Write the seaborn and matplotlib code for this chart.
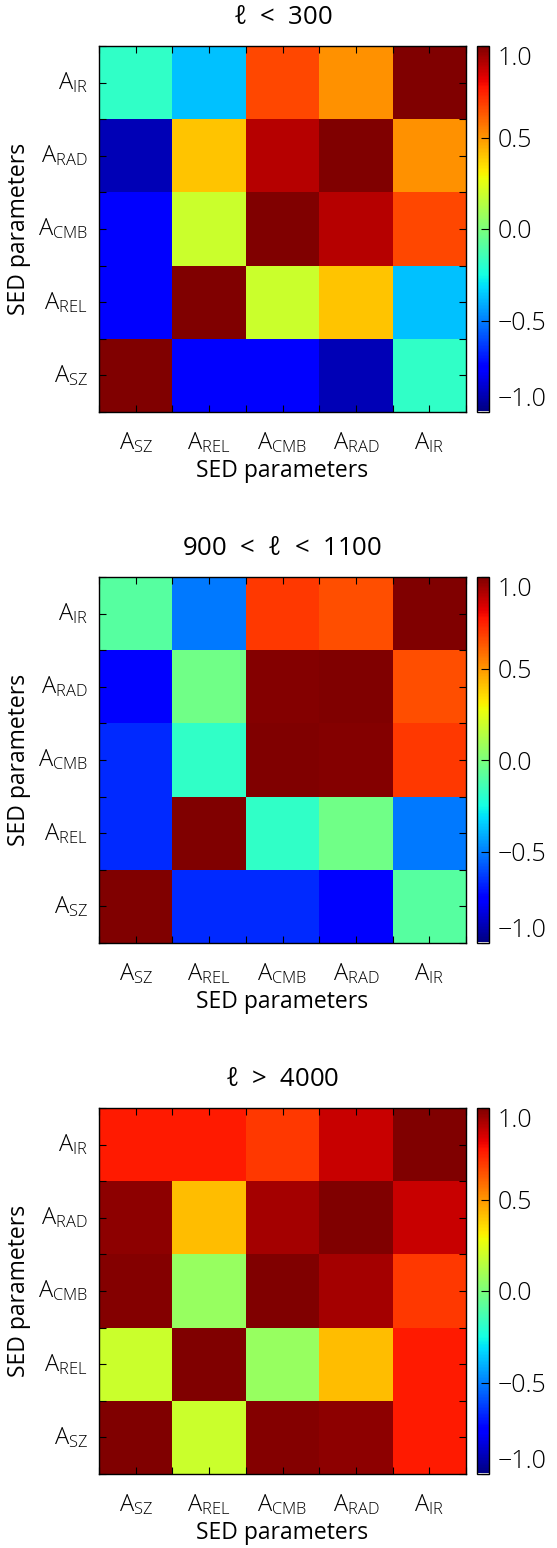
import numpy as np
import pandas as pd
import matplotlib
matplotlib.use('Agg')
import matplotlib.pyplot as plt
import seaborn as sns
from matplotlib.colors import ListedColormap
from matplotlib.ticker import FixedLocator

# SED parameters, in matrix order
params = ['SZ', 'REL', 'CMB', 'RAD', 'IR']
tick_labels = [r'$A_{%s}$' % p for p in params]
titles = [r'$\ell$  <  300', r'900  <  $\ell$  <  1100', r'$\ell$  >  4000']

# correlation matrices, rows/cols ordered SZ, REL, CMB, RAD, IR
corr_low = [
    [1.00, -0.77, -0.76, -0.90, -0.18],
    [-0.77, 1.00, 0.19, 0.40, -0.375],
    [-0.76, 0.19, 1.00, 0.90, 0.67],
    [-0.90, 0.40, 0.90, 1.00, 0.515],
    [-0.18, -0.375, 0.67, 0.515, 1.00],
]
corr_mid = [
    [1.00, -0.67, -0.67, -0.77, -0.09],
    [-0.67, 1.00, -0.18, -0.03, -0.515],
    [-0.67, -0.18, 1.00, 0.99, 0.70],
    [-0.77, -0.03, 0.99, 1.00, 0.65],
    [-0.09, -0.515, 0.70, 0.65, 1.00],
]
corr_high = [
    [1.00, 0.19, 0.99, 0.97, 0.76],
    [0.19, 1.00, 0.066, 0.42, 0.76],
    [0.99, 0.066, 1.00, 0.937, 0.70],
    [0.97, 0.42, 0.937, 1.00, 0.868],
    [0.76, 0.76, 0.70, 0.868, 1.00],
]
cbar_ticks = [-1.0, -0.5, 0.0, 0.5, 1.0]
cbar_labels = ['\u22121.0', '\u22120.5', '0.0', '0.5', '1.0']

sns.set_style('ticks')
plt.rcParams['font.family'] = ['Open Sans', 'DejaVu Sans']
plt.rcParams['font.weight'] = 'light'
plt.rcParams['mathtext.default'] = 'regular'
plt.rcParams['axes.linewidth'] = 1.0
for key in ['text.color', 'axes.labelcolor', 'xtick.color', 'ytick.color',
            'axes.edgecolor']:
    plt.rcParams[key] = 'black'

# jet with the lowest entry white (as in the IDL colour bar)
jet = plt.get_cmap('jet')(np.linspace(0, 1, 256))
jet[0] = [1, 1, 1, 1]
cmap = ListedColormap(jet)

W, H = 557, 1548
fig = plt.figure(figsize=(W / 100, H / 100), dpi=100)

tops = [46, 577, 1108]
for corr, title, top in zip([corr_low, corr_mid, corr_high], titles, tops):
    bottom = 1 - (top + 366) / H
    ax = fig.add_axes([99 / W, bottom, 367 / W, 366 / H])
    cax = fig.add_axes([477 / W, bottom, 12 / W, 366 / H])

    df = pd.DataFrame(corr, index=tick_labels, columns=tick_labels).iloc[::-1]
    sns.heatmap(df, ax=ax, cbar_ax=cax, cmap=cmap, vmin=-1, vmax=1,
                linewidths=0)

    ax.set_axisbelow(False)
    for s in ax.spines.values():
        s.set_visible(True)
        s.set_color('black')
        s.set_linewidth(1.0)
    ax.xaxis.set_minor_locator(FixedLocator(range(6)))
    ax.yaxis.set_minor_locator(FixedLocator(range(6)))
    ax.tick_params(which='both', direction='in', length=5, width=0.8,
                   top=True, right=True, bottom=True, left=True, color='black')
    ax.tick_params(axis='x', labelsize=17, pad=13, labelrotation=0)
    ax.tick_params(axis='y', labelsize=17, pad=8, labelrotation=0)
    ax.set_title(title, fontsize=18.5, pad=16)
    ax.set_xlabel('SED parameters', fontsize=16.5, labelpad=3)
    ax.set_ylabel('SED parameters', fontsize=16.5, labelpad=5)

    cbar = ax.collections[0].colorbar
    cbar.outline.set_visible(True)
    cbar.outline.set_linewidth(1.0)
    cbar.outline.set_edgecolor('black')
    cax.set_axisbelow(False)
    cax.set_yticks(cbar_ticks)
    cax.set_yticklabels(cbar_labels)
    cax.tick_params(direction='in', length=6, width=0.8, labelsize=18, pad=6,
                    right=True, left=False, color='black')
    lbls = cax.get_yticklabels()
    lbls[0].set_va('bottom')
    lbls[-1].set_va('top')

fig.savefig('out.png', dpi=100)
